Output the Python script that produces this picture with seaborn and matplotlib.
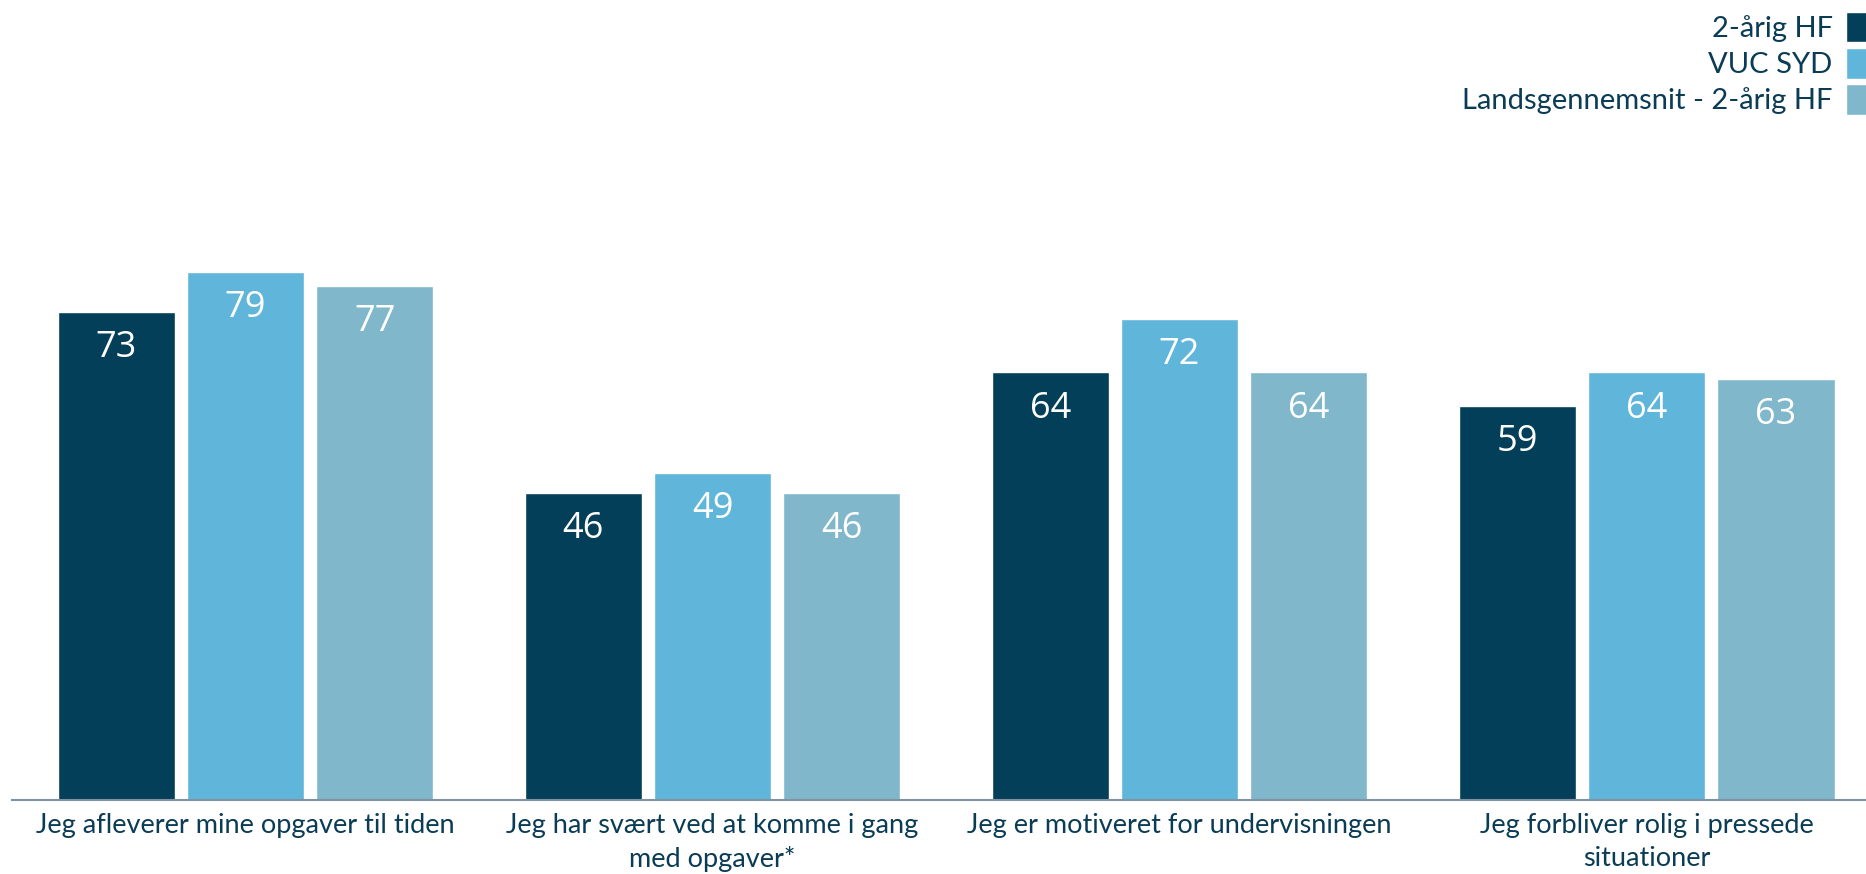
import matplotlib
matplotlib.use("Agg")
import matplotlib.pyplot as plt
import seaborn as sns
import pandas as pd

categories = [
    "Jeg afleverer mine opgaver til tiden",
    "Jeg har svært ved at komme i gang\nmed opgaver*",
    "Jeg er motiveret for undervisningen",
    "Jeg forbliver rolig i pressede\nsituationer",
]
series_names = ["2-årig HF", "VUC SYD", "Landsgennemsnit - 2-årig HF"]
hf_values = [73, 46, 64, 59]
vuc_values = [79, 49, 72, 64]
lands_values = [77, 46, 64, 63]
colors = ["#033F58", "#60B5DA", "#80B7CB"]

rows = []
for name, vals in zip(series_names, [hf_values, vuc_values, lands_values]):
    for c, v in zip(categories, vals):
        rows.append({"cat": c, "series": name, "value": v})
df = pd.DataFrame(rows)

sns.set_theme(style="white")
plt.rcParams["font.family"] = ["Lato", "DejaVu Sans"]

text_color = "#0B3C55"
fig = plt.figure(figsize=(18.66, 8.74), dpi=100)
ax = fig.add_axes([12 / 1866, 74 / 874, 1 - 12 / 1866, (800 - 132) / 874])

sns.barplot(data=df, x="cat", y="value", hue="series", order=categories,
            hue_order=series_names, palette=colors, width=0.83, gap=0.09,
            saturation=1, errorbar=None, ax=ax)

ax.set_ylim(0, 100)
ax.set_xlim(-0.5, 3.47)
ax.set_xlabel("")
ax.set_ylabel("")
ax.set_yticks([])
for s in ["top", "right", "left"]:
    ax.spines[s].set_visible(False)
ax.spines["bottom"].set_color("#7F93A3")
ax.spines["bottom"].set_linewidth(1.5)
ax.tick_params(axis="x", length=0, pad=9, labelsize=19.5, labelcolor=text_color)
for lbl in ax.get_xticklabels():
    lbl.set_linespacing(1.4)

for cont in ax.containers:
    texts = ax.bar_label(cont, labels=[f"{v:.0f}" for v in cont.datavalues],
                         label_type="edge", padding=-13, color="white",
                         fontsize=26, family=["Open Sans", "DejaVu Sans"])
    for t in texts:
        t.set_va("top")

handles, labels = ax.get_legend_handles_labels()
if ax.legend_:
    ax.legend_.remove()
fig.legend(handles, labels, loc="upper right",
           bbox_to_anchor=(1.0 + 14 / 1866, 1.0 + 1 / 874),
           frameon=False, markerfirst=False, fontsize=21,
           handlelength=0.72, handleheight=1.22, labelspacing=0.2,
           handletextpad=0.45, borderaxespad=0.0, borderpad=0.45,
           labelcolor=text_color, alignment="right")

fig.savefig("out.png", dpi=100)
